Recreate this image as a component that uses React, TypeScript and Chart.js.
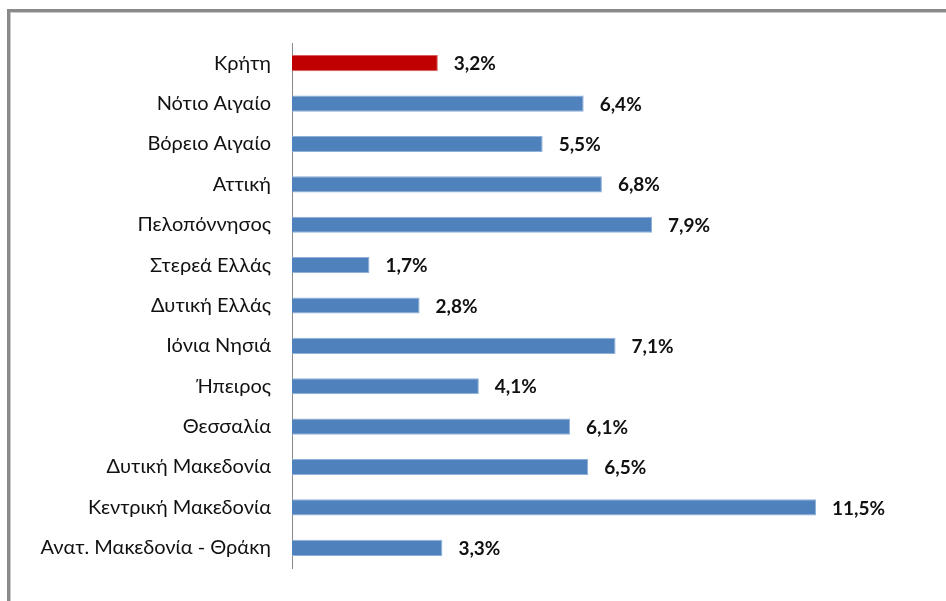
import React, { useEffect, useRef } from "react";
import { Chart, registerables } from "chart.js";

Chart.register(...registerables);

const regions = [
  "Κρήτη",
  "Νότιο Αιγαίο",
  "Βόρειο Αιγαίο",
  "Αττική",
  "Πελοπόννησος",
  "Στερεά Ελλάς",
  "Δυτική Ελλάς",
  "Ιόνια Νησιά",
  "Ήπειρος",
  "Θεσσαλία",
  "Δυτική Μακεδονία",
  "Κεντρική Μακεδονία",
  "Ανατ. Μακεδονία - Θράκη",
];

const shares = [3.2, 6.4, 5.5, 6.8, 7.9, 1.7, 2.8, 7.1, 4.1, 6.1, 6.5, 11.5, 3.3];

const highlighted = "Κρήτη";

const FONT = "Lato, 'Open Sans', sans-serif";

// Writes "x,y%" just right of each bar's end
const valueLabels = {
  id: "valueLabels",
  afterDatasetsDraw(chart: any) {
    const ctx = chart.ctx;
    const meta = chart.getDatasetMeta(0);
    ctx.save();
    ctx.font = `bold 19px ${FONT}`;
    ctx.fillStyle = "#111";
    ctx.textAlign = "left";
    ctx.textBaseline = "middle";
    meta.data.forEach((bar: any, i: number) => {
      const text = shares[i].toFixed(1).replace(".", ",") + "%";
      ctx.fillText(text, bar.x + 16, bar.y + 1);
    });
    ctx.restore();
  },
};

export default function App() {
  const canvasRef = useRef<HTMLCanvasElement | null>(null);

  useEffect(() => {
    if (!canvasRef.current) return;
    const chart = new Chart(canvasRef.current, {
      type: "bar",
      data: {
        labels: regions,
        datasets: [
          {
            data: shares,
            backgroundColor: regions.map((r) => (r === highlighted ? "#C00000" : "#4F81BD")),
            borderColor: regions.map((r) => (r === highlighted ? "#D86060" : "#8FB0D8")),
            borderWidth: 1,
            borderSkipped: "left",
            categoryPercentage: 1,
            barPercentage: 0.4,
          },
        ],
      },
      options: {
        indexAxis: "y",
        animation: false,
        responsive: false,
        maintainAspectRatio: false,
        layout: { padding: { top: 43, bottom: 26, right: 16, left: 0 } },
        plugins: {
          legend: { display: false },
          tooltip: { enabled: false },
        },
        scales: {
          x: {
            display: false,
            min: 0,
            max: 14,
          },
          y: {
            afterFit(scale: any) {
              scale.width = 292;
            },
            grid: { display: false, drawTicks: false },
            border: { display: true, color: "#8a8a8a", width: 1 },
            ticks: {
              padding: 21,
              color: "#111",
              font: { family: FONT, size: 20 },
            },
          },
        },
      },
      plugins: [valueLabels],
    });
    return () => chart.destroy();
  }, []);

  return (
    <div
      style={{
        position: "fixed",
        left: 0,
        top: 0,
        width: 946,
        height: 601,
        background: "#fff",
        overflow: "hidden",
      }}
    >
      <div
        style={{
          position: "absolute",
          left: 7,
          top: 9,
          width: 960,
          height: 620,
          borderLeft: "3px solid #8a8a8a",
          borderTop: "3px solid #8a8a8a",
          boxShadow: "inset 1px 1px 0 #c8c8c8",
        }}
      />
      <canvas
        ref={canvasRef}
        width={946}
        height={601}
        style={{ position: "absolute", left: 0, top: 0 }}
      />
    </div>
  );
}
